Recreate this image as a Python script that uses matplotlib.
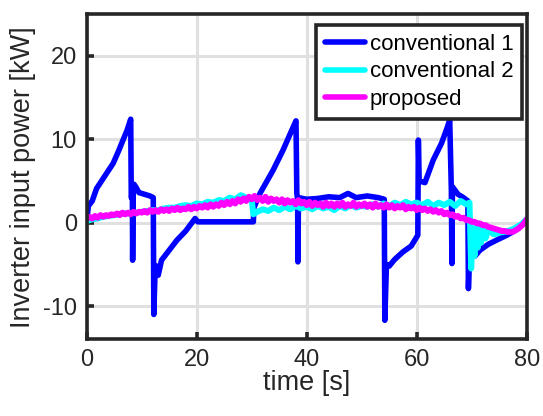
import numpy as np
import matplotlib
matplotlib.use("Agg")
import matplotlib.pyplot as plt

plt.rcParams['font.family'] = ['Liberation Sans', 'DejaVu Sans']
plt.rcParams['axes.unicode_minus'] = False

# ---- data -------------------------------------------------------------
# conventional 1: breakpoints (time [s], power [kW])
conv1_t = [0, 0.3, 1.0, 1.8, 3.0, 4.0, 4.8, 5.8, 6.6, 7.3, 8.0, 8.1, 8.3, 8.35, 8.45,
           8.6, 9.0, 9.5, 10.5, 11.5, 12.1, 12.2, 12.4, 12.7, 13.0, 13.6, 15.0, 16.4,
           18.0, 19.7, 20.2, 30.3, 30.4, 31.5, 33.9, 35.7, 37.3, 38.05, 38.2, 38.35,
           38.4, 38.5, 40, 42, 44, 46, 47.5, 49, 51, 53, 54.1, 54.2, 54.5, 55.0, 56,
           57.5, 59, 60.2, 60.3, 60.45, 61.5, 63, 64.5, 65.5, 66.0, 66.3, 66.4, 66.5,
           67.5, 68.5, 69.3, 69.4, 69.6, 70.6, 71.5, 73, 74.5, 76.4, 78, 79.3, 80]
conv1_p = [0.2, 2.0, 2.6, 4.1, 5.3, 6.3, 7.1, 8.6, 9.9, 11.0, 12.4, 3.0, 3.4, -4.5, 3.5,
           4.6, 4.2, 3.6, 3.4, 3.2, 3.0, -11.0, -6.5, -5.2, -6.3, -4.5, -3.3, -2.1,
           -1.0, 0.5, 0.1, 0.1, 1.8, 3.5, 6.3, 8.7, 11.1, 12.2, 3.5, 2.8,
           -4.7, 3.0, 2.8, 2.9, 3.1, 3.0, 3.5, 3.0, 3.2, 3.0, 2.8, -11.7, -5.0, -5.2, -4.4,
           -3.5, -2.8, -1.5, 9.9, 5.0, 4.8, 7.5, 9.5, 11.3, 12.3, 3.8, -4.9, 4.3,
           3.4, 3.0, 2.6, -7.9, -4.0, -4.0, -3.3, -2.6, -2.1, -1.5, -0.9, -0.2, 0.4]

# conventional 2
conv2_t = list(range(0, 31)) + [30.3] + list(range(31, 70)) + \
          [69.6, 69.9, 70.2, 70.5, 70.8, 71.1, 71.4, 71.7, 72, 72.5, 73,
           74, 75, 76, 77, 78, 79, 80]
conv2_p = [0.2, 0.4, 0.5, 0.7, 0.8, 0.9, 1.0, 1.1, 1.1, 1.2,
           1.3, 1.4, 1.5, 1.5, 1.7, 1.8, 1.8, 2.0, 2.1, 2.0,
           2.3, 2.2, 2.5, 2.4, 2.7, 2.6, 3.0, 2.8, 3.3, 3.0,
           2.8, 1.0,
           1.3, 1.6, 1.4, 1.8, 1.5, 1.9, 1.6, 2.0, 1.7,
           1.9, 1.6, 2.0, 1.7, 1.9, 1.5, 2.0, 1.7, 2.1, 1.8,
           2.0, 1.9, 2.2, 1.9, 2.3, 2.0, 2.4, 2.1, 2.5, 2.2,
           2.4, 2.1, 2.5, 2.0, 2.4, 2.1, 2.5, 2.0, 2.6, 2.2,
           2.4, -5.5, -1.0, -4.0, -0.5, -3.0, -0.6, -2.4, -0.7, -1.9, -0.9,
           -1.4, -1.2, -1.1, -0.9, -0.6, -0.2, 0.4]

# proposed, sampled every 0.5 s
prop_t = [i * 0.5 for i in range(161)]
prop_p = [0.5, 0.7, 0.5, 0.8, 0.6, 0.9, 0.7, 0.9, 0.8, 1.0,
          0.9, 1.1, 0.9, 1.2, 1.0, 1.2, 1.0, 1.3, 1.1, 1.3,
          1.2, 1.4, 1.2, 1.5, 1.3, 1.5, 1.3, 1.6, 1.4, 1.6,
          1.4, 1.7, 1.5, 1.8, 1.5, 1.7, 1.6, 1.9, 1.6, 1.9,
          1.7, 2.0, 1.8, 2.1, 1.8, 2.2, 1.9, 2.2, 2.0, 2.4,
          2.1, 2.5, 2.2, 2.6, 2.3, 2.8, 2.5, 2.9, 2.6, 3.1,
          2.8, 3.2, 2.7, 3.0, 2.6, 3.1, 2.5, 2.9, 2.6, 2.8,
          2.4, 2.8, 2.3, 2.7, 2.4, 2.6, 2.2, 2.7, 2.3, 2.5,
          2.1, 2.5, 2.0, 2.4, 2.1, 2.3, 1.9, 2.4, 2.0, 2.3,
          1.9, 2.3, 2.0, 2.4, 1.9, 2.2, 2.0, 2.4, 1.9, 2.2,
          2.0, 2.3, 1.9, 2.2, 1.8, 2.3, 1.9, 2.1, 1.8, 2.2,
          1.8, 2.1, 1.7, 2.0, 1.8, 2.1, 1.6, 1.9, 1.7, 1.9,
          1.5, 1.8, 1.5, 1.7, 1.4, 1.6, 1.3, 1.5, 1.2, 1.4,
          1.0, 1.2, 0.9, 1.0, 0.7, 0.8, 0.5, 0.6, 0.3, 0.3,
          0.1, 0.1, -0.1, -0.1, -0.3, -0.3, -0.5, -0.6, -0.7, -0.8,
          -0.9, -1.0, -1.0, -1.1, -1.1, -1.1, -0.9, -0.7, -0.4, -0.1,
          0.4]

labels = ['conventional 1', 'conventional 2', 'proposed']
colors = ['#0000ff', '#00ffff', '#ff00ff']
widths = [4.0, 4.3, 4.3]

xticks = [0, 20, 40, 60, 80]
yticks = [-10, 0, 10, 20]

# ---- figure -----------------------------------------------------------
dark = '#262626'
fig = plt.figure(figsize=(5.43, 4.16), dpi=100)
ax = fig.add_axes([0.1597, 0.1839, 0.8103, 0.7824])

series = [(conv1_t, conv1_p), (conv2_t, conv2_p), (prop_t, prop_p)]
for (t, p), lab, c, w in zip(series, labels, colors, widths):
    ax.plot(t, p, color=c, lw=w, label=lab, solid_joinstyle='round',
            solid_capstyle='round')

ax.set_xlim(0, 80)
ax.set_ylim(-14, 25)
ax.set_xticks(xticks)
ax.set_yticks(yticks)
ax.grid(True, color='#e0e0e0', lw=2.2)
ax.set_axisbelow(True)

for s in ax.spines.values():
    s.set_color(dark)
    s.set_linewidth(2.6)
ax.tick_params(direction='in', length=5, width=2.6, color=dark,
               labelsize=17, labelcolor=dark, pad=7)

ax.set_xlabel('time [s]', fontsize=19.5, color=dark, labelpad=-1)
ax.set_ylabel('Inverter input power [kW]', fontsize=19.5, color=dark, labelpad=5)

leg = ax.legend(loc='upper right', bbox_to_anchor=(0.99, 0.967), borderaxespad=0,
                fontsize=16, handlelength=1.8, handletextpad=0.2,
                labelspacing=0.3, borderpad=0.4, fancybox=False,
                framealpha=1, edgecolor=dark)
leg.get_frame().set_linewidth(2.6)
for h in leg.get_lines():
    h.set_linewidth(4)

fig.savefig('out.png', dpi=100)
